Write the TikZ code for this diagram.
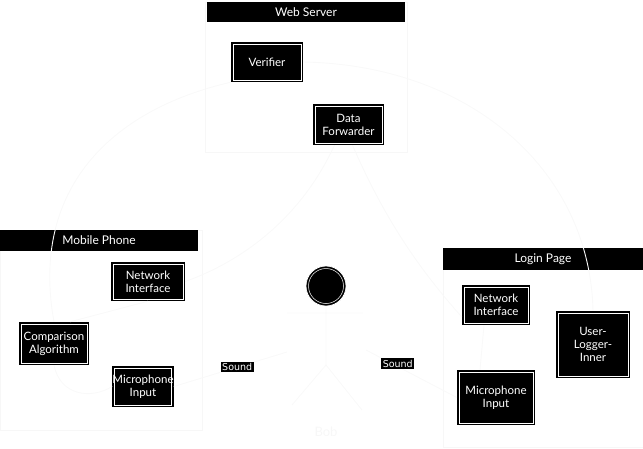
\documentclass[tikz,border=0pt]{standalone}
\usepackage{fontspec}
\setmainfont{Lato}
\newfontfamily\sndfont{DejaVu Sans}
\begin{document}
\begin{tikzpicture}[x=1pt,y=-1pt,
  frame/.style={draw=black!3, line width=0.6pt, minimum width=#1, anchor=north west, inner sep=0pt},
  hdr/.style={fill=black, text=white, inner sep=0pt, font=\fontsize{12}{14}\selectfont},
  box/.style={fill=black, text=white, align=center, inner sep=0pt, font=\fontsize{11.5}{13}\selectfont},
  conn/.style={draw=black!2.5, line width=0.9pt},
  snd/.style={fill=black, text=white, inner sep=1.5pt, font=\sndfont\fontsize{9.5}{11}\selectfont},
  ghost/.style={text=black!3, font=\fontsize{13}{15}\selectfont}]
\useasboundingbox (0,0) rectangle (643,448);
% frames
\node[frame=202, minimum height=150] (wsf) at (205,2) {};
\node[frame=202, minimum height=200] (mpf) at (0,230) {};
\node[frame=205, minimum height=199] (lpf) at (443,248) {};
% headers
\node[hdr, minimum width=198, minimum height=20] (wsh) at (306,12) {Web Server};
\node[hdr, minimum width=198, minimum height=21] (mph) at (99,240.5) {Mobile Phone};
\node[hdr, minimum width=200, minimum height=22] (lph) at (543,259) {Login Page};
% boxes
\node[box, minimum width=72, minimum height=40] (ver) at (267,62) {Verifier};
\node[box, minimum width=71, minimum height=41] (df) at (348.5,124.5) {Data\\Forwarder};
\node[box, minimum width=74, minimum height=39] (mni) at (148,281.5) {Network\\Interface};
\node[box, minimum width=70, minimum height=43] (cmp) at (54,343.5) {Comparison\\Algorithm};
\node[box, minimum width=60, minimum height=41] (mmic) at (143,386.5) {Microphone\\Input};
\node[box, minimum width=68, minimum height=40] (lni) at (496,305) {Network\\Interface};
\node[box, minimum width=74, minimum height=67] (uli) at (593,344.5) {User-\\Logger-\\Inner};
\node[box, minimum width=78, minimum height=55] (lmic) at (496,397.5) {Microphone\\Input};
\foreach \n in {ver,df,mni,cmp,mmic,lni,uli,lmic}{
  \draw[white, line width=0.6pt] ([shift={(2,2)}]\n.north west) rectangle ([shift={(-2,-2)}]\n.south east);
}
% actor Bob
\node[circle, fill=black, draw=white, line width=0.7pt, minimum size=40] (bobhead) at (326,286) {};
\draw[white, line width=0.5pt] (bobhead.center) circle (17.5);
\coordinate (neck) at (326,307);
\coordinate (hip) at (326,365);
\coordinate (armL) at (287,313);
\coordinate (armR) at (363,313);
\coordinate (footL) at (292,405);
\coordinate (footR) at (362,410);
\coordinate (bobL) at (287,352);
\coordinate (bobR) at (366,350);
\draw[conn] (neck) -- (hip) (armL) -- (armR) (hip) -- (footL) (hip) -- (footR);
\node[ghost] (bob) at (326,432) {Bob};
% connectors
\draw[conn] (ver.east) .. controls (470,65) and (590,170) .. (uli.north);
\draw[conn] (ver.south west) .. controls (110,110) and (30,190) .. (cmp.north);
\draw[conn] ([xshift=-14]df.south) .. controls (300,220) and (240,262) .. (mni.east);
\draw[conn] ([xshift=4]df.south) .. controls (385,220) and (420,270) .. ([yshift=-12]lni.west);
\draw[conn] ([xshift=16]cmp.north) -- (mni.south);
\draw[conn] (mmic.west) .. controls (90,400) and (60,395) .. (cmp.south);
\draw[conn] ([xshift=-12]lni.south) -- ([xshift=-16]lmic.north);
\draw[conn] (bobL) -- node[snd, pos=0.44] (s1) {Sound} (mmic.east);
\draw[conn] (bobR) -- node[snd, pos=0.35, yshift=3] (s2) {Sound} (lmic.west);
\end{tikzpicture}
\end{document}
